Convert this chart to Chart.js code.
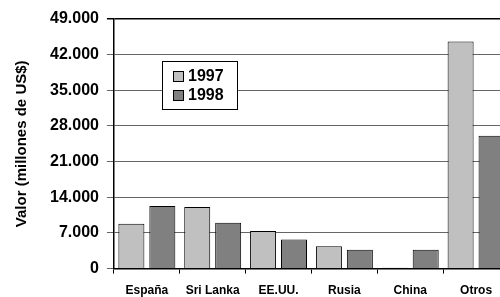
<!DOCTYPE html>
<html>
<head>
<meta charset="utf-8">
<script src="https://cdn.jsdelivr.net/npm/chart.js@4"></script>
<style>
  body { margin: 0; background: #fff; overflow: hidden; }
  #wrap { width: 500px; height: 297px; overflow: hidden; }
  #box { width: 522px; height: 297px; }
</style>
</head>
<body>
<div id="wrap"><div id="box"><canvas id="chartJSContainer"></canvas></div></div>
<script>
var categories = ["España", "Sri Lanka", "EE.UU.", "Rusia", "China", "Otros"];
var values1997 = [8800, 12100, 7400, 4400, 150, 44600];
var values1998 = [12300, 9000, 5700, 3700, 3700, 26100];
var seriesLabels = ["1997", "1998"];
var yTicks = [0, 7000, 14000, 21000, 28000, 35000, 42000, 49000];

var FONT = "'Liberation Sans', Arial, sans-serif";

function fmt(v) {
  return String(v).replace(/\B(?=(\d{3})+(?!\d))/g, ".");
}

// legend box drawn inside the plot, like the original
var boxLegend = {
  id: "boxLegend",
  afterDraw: function (chart) {
    var c = chart.ctx;
    var x = 162, y = 61, w = 75, h = 48;
    c.save();
    c.fillStyle = "#fff";
    c.fillRect(x, y, w, h);
    c.strokeStyle = "#000";
    c.lineWidth = 1;
    c.strokeRect(x + 0.5, y + 0.5, w, h);
    c.font = "bold 16px " + FONT;
    c.textBaseline = "middle";
    chart.data.datasets.forEach(function (ds, i) {
      var cy = y + 15 + i * 19;
      c.fillStyle = ds.backgroundColor;
      c.fillRect(x + 11, cy - 5, 10, 10);
      c.strokeStyle = "#000";
      c.strokeRect(x + 11.5, cy - 4.5, 10, 10);
      c.fillStyle = "#000";
      c.fillText(ds.label, x + 26, cy + 1);
    });
    c.restore();
  }
};

var options = {
  type: "bar",
  data: {
    labels: categories,
    datasets: [
      {
        label: seriesLabels[0],
        data: values1997,
        backgroundColor: "#c0c0c0",
        borderColor: "#000",
        borderWidth: 1,
      },
      {
        label: seriesLabels[1],
        data: values1998,
        backgroundColor: "#808080",
        borderColor: "#000",
        borderWidth: 1,
      },
    ],
  },
  options: {
    responsive: true,
    maintainAspectRatio: false,
    animation: false,
    categoryPercentage: 0.94,
    barPercentage: 0.84,
    layout: { padding: { top: 19, right: 13, left: 8, bottom: -11 } },
    plugins: {
      legend: { display: false },
      tooltip: { enabled: false },
    },
    scales: {
      x: {
        grid: { offset: true, drawOnChartArea: false, drawTicks: true, tickLength: 5, color: "#000" },
        border: { color: "#000", width: 1.5 },
        ticks: {
          color: "#000",
          font: { family: FONT, size: 12, weight: "bold" },
          padding: 10,
          maxRotation: 0,
          minRotation: 0,
          autoSkip: false,
        },
      },
      y: {
        min: 0,
        max: 49000,
        afterBuildTicks: function (axis) {
          axis.ticks = yTicks.map(function (v) { return { value: v }; });
        },
        grid: {
          color: function (ctx) { return ctx.tick && ctx.tick.value === 49000 ? "#000" : "#666"; },
          lineWidth: function (ctx) { return ctx.tick && ctx.tick.value === 49000 ? 1.5 : 1; },
          tickLength: 7,
        },
        border: { color: "#000", width: 1.5 },
        ticks: {
          color: "#000",
          font: { family: FONT, size: 16, weight: "bold" },
          padding: 8,
          callback: function (v) { return fmt(v); },
        },
        title: {
          display: true,
          text: "Valor (millones de US$)",
          color: "#000",
          font: { family: FONT, size: 15, weight: "bold" },
          padding: { top: 5, bottom: 11 },
        },
      },
    },
  },
  plugins: [boxLegend],
};

var ctx = document.getElementById("chartJSContainer").getContext("2d");
var myChart = new Chart(ctx, options);
</script>
</body>
</html>
